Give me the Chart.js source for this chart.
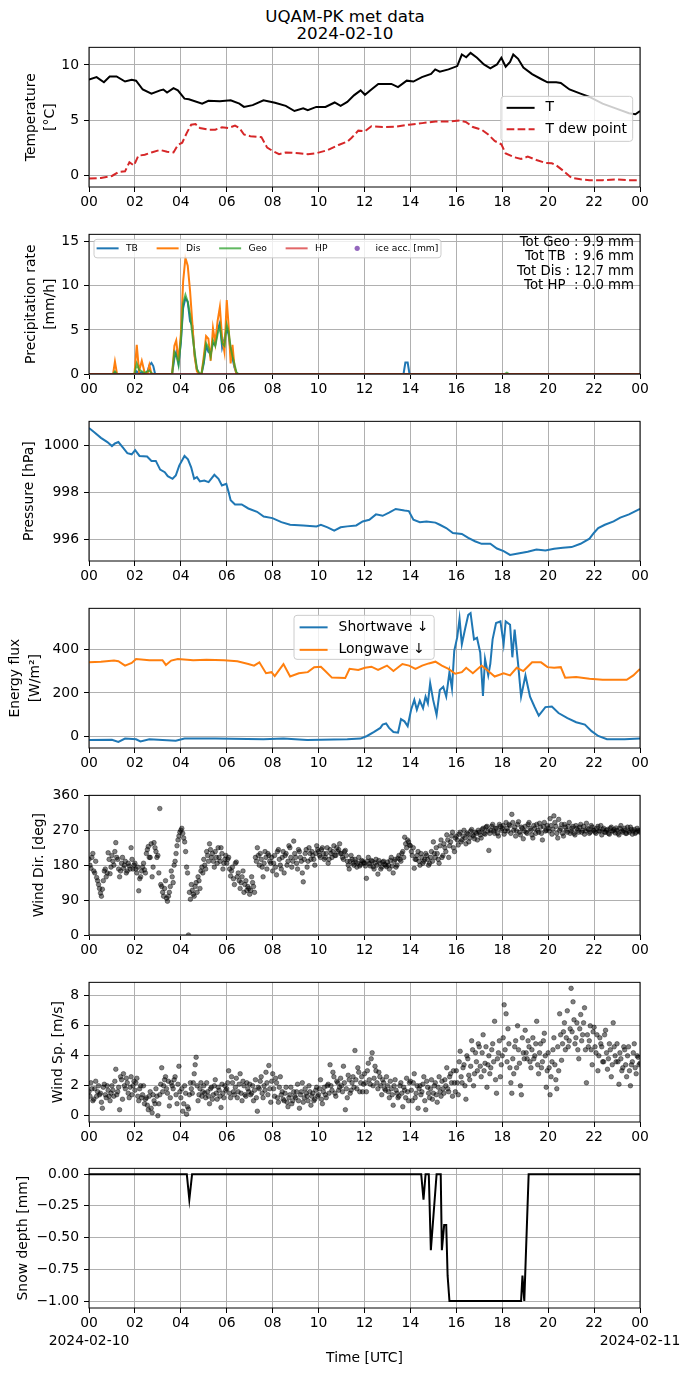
<!DOCTYPE html>
<html>
<head>
<meta charset="utf-8">
<title>UQAM-PK met data</title>
<script src="https://cdn.jsdelivr.net/npm/chart.js@4.4.1/dist/chart.umd.min.js"></script>
<style>
  body { margin: 0; background: #fff; }
  #fig { position: relative; width: 690px; height: 1377px; overflow: hidden; }
  #fig canvas { position: absolute; left: 0; }
  #suptitle {
    position: absolute; left: 0; top: 8px; width: 690px; text-align: center;
    font-family: "DejaVu Sans", sans-serif; font-size: 16.7px; line-height: 16.7px; color: #000;
  }
</style>
</head>
<body>
<div id="fig">
  <div id="suptitle">UQAM-PK met data<br>2024-02-10</div>
</div>
<script>
// ---- data (times in hours UTC) ----
const hourTicks = ['00', '02', '04', '06', '08', '10', '12', '14', '16', '18', '20', '22', '00'];
const dateLabels = ['2024-02-10', '2024-02-11'];

// temperature
const tTime = [0,0.33,0.65,0.9,1.2,1.57,1.86,2.05,2.34,2.72,3.1,3.24,3.4,3.68,3.87,4.16,4.35,4.93,5.2,5.7,6.17,6.55,6.75,7.13,7.6,8.1,8.57,8.95,9.33,9.53,9.9,10.3,10.7,10.96,11.25,11.54,11.83,12.02,12.3,12.6,13.17,13.46,13.84,14.13,14.5,14.9,15.08,15.28,15.66,16.04,16.24,16.43,16.62,16.9,17.2,17.48,17.77,17.96,18.15,18.34,18.48,18.69,18.92,19.3,19.69,19.97,20.35,20.55,20.93,21.41,21.8,22.37,22.94,23.52,23.8,24];
const tAir = [8.67,8.9,8.43,8.96,8.96,8.5,8.67,8.58,7.78,7.4,7.7,7.78,7.5,7.9,7.7,6.95,6.9,6.5,6.75,6.72,6.8,6.5,6.2,6.36,6.8,6.57,6.3,5.83,6.07,5.9,6.2,6.2,6.6,6.3,6.65,7.25,7.7,7.3,7.78,8.28,8.28,8.0,8.58,8.5,8.9,9.2,9.6,9.4,9.6,9.9,10.95,10.7,11.1,10.65,10.05,9.7,10.05,10.65,9.85,10.27,10.95,10.56,9.76,9.17,8.73,8.43,8.43,8.37,7.78,7.4,7.1,6.5,6.07,5.62,5.53,5.83];
const tdTime = [0,0.52,1.0,1.28,1.57,1.76,1.96,2.15,2.43,2.72,3.1,3.4,3.68,3.87,4.06,4.26,4.45,4.64,4.83,5.21,5.5,5.79,6.08,6.36,6.55,6.75,7.03,7.51,7.76,7.99,8.28,8.57,9.14,9.53,9.91,10.39,10.87,11.25,11.44,11.73,12.02,12.3,12.78,13.36,13.94,14.51,15.09,15.66,16.14,16.43,16.72,17.1,17.39,17.67,17.96,18.15,18.54,18.82,19.11,19.49,19.88,20.16,20.36,20.64,21.02,21.41,21.8,22.37,22.94,23.52,24];
const tDew = [-0.3,-0.24,-0.06,0.3,0.36,1.18,0.89,1.78,1.86,2.07,2.3,2.13,2.07,2.75,2.96,3.85,4.59,4.64,4.29,4.14,4.14,4.35,4.29,4.5,4.29,3.7,3.55,3.46,2.51,2.22,1.92,2.07,2.01,1.92,2.01,2.28,2.75,3.05,3.4,4.05,4.0,4.44,4.38,4.41,4.59,4.73,4.88,4.88,4.97,4.82,4.38,4.14,3.7,3.11,2.81,1.98,1.63,1.48,1.69,1.39,1.12,1.09,0.89,0.44,-0.24,-0.36,-0.44,-0.44,-0.38,-0.44,-0.44];

// precipitation rate [mm/h]
const prTime = [0,1.05,1.13,1.22,1.98,2.08,2.18,2.3,2.42,2.55,2.63,2.72,2.8,2.88,3.62,3.72,3.8,3.9,4.0,4.1,4.2,4.3,4.4,4.5,4.6,4.7,4.8,4.9,5.0,5.1,5.2,5.3,5.4,5.5,5.6,5.7,5.8,5.9,6.0,6.08,6.17,6.25,6.33,6.42,6.5,13.7,13.78,13.88,13.96,18.1,18.2,18.3,24];
const tbRate = [0,0,0.2,0,0,0.3,0.1,0.2,0,0.3,1.0,1.25,0.9,0,0,1.8,2.5,1.2,3.5,7.5,8.6,8.2,6.0,5.5,2.2,0.5,0,0,1.2,3.2,2.5,2.3,3.5,3.3,5.0,5.8,3.0,4.0,5.2,4.5,2.5,1.8,0.8,0.1,0,0,1.3,1.3,0,0,0,0,0];
const disRate = [0,0,1.4,0,0,3.3,0.3,1.5,0.2,0,1.0,0,0,0,0,3.2,3.8,1.5,4.5,10.5,13.2,12.3,9.5,5.8,2.0,0.3,0,0,2.0,4.3,4.0,1.5,5.2,3.5,6.0,7.6,4.0,2.5,8.4,5.5,1.2,3.3,1.0,0,0,0,0,0,0,0,0,0,0];
const geoRate = [0,0,0.3,0,0,1.2,0.5,0.3,0.1,0.3,0.4,0.1,0,0,0,2.5,2.2,1.0,3.8,8.0,9.0,8.2,6.8,4.5,2.5,0.6,0.1,0,1.5,3.5,3.0,2.0,3.8,3.2,4.5,5.5,3.5,3.2,5.6,4.8,3.0,2.0,1.2,0.2,0,0,0,0,0,0,0.15,0,0];
const hpTime = [0, 24];
const hpRate = [0, 0];
const iceAcc = [];
const precipTotals = ['Tot Geo : 9.9 mm', 'Tot TB  : 9.6 mm', 'Tot Dis : 12.7 mm', 'Tot HP  : 0.0 mm'];

// pressure [hPa]
const pTime = [0,0.23,0.52,0.8,1.0,1.13,1.28,1.48,1.67,1.86,2.01,2.2,2.53,2.72,2.91,3.1,3.3,3.43,3.64,3.78,3.93,4.16,4.31,4.45,4.58,4.7,4.83,5.02,5.21,5.46,5.64,5.79,5.98,6.08,6.17,6.36,6.65,6.94,7.32,7.61,7.99,8.38,8.76,9.33,9.91,10.1,10.39,10.68,10.96,11.25,11.64,11.92,12.21,12.5,12.79,13.07,13.36,13.74,13.93,14.13,14.41,14.7,15.09,15.28,15.56,15.85,16.24,16.52,16.81,17.1,17.48,17.77,18.06,18.34,18.63,19.11,19.49,19.88,20.26,20.64,21.02,21.41,21.8,21.99,22.18,22.47,22.85,23.14,23.52,24];
const pVals = [1000.74,1000.56,1000.32,1000.14,999.97,1000.08,1000.14,999.9,999.67,999.62,999.8,999.55,999.53,999.34,999.34,998.97,998.86,998.69,998.58,998.72,999.14,999.55,999.41,999.07,998.58,998.65,998.47,998.51,998.44,998.75,998.58,998.3,998.37,998.02,997.67,997.49,997.49,997.32,997.18,996.98,996.91,996.74,996.63,996.6,996.56,996.63,996.52,996.38,996.52,996.56,996.6,996.77,996.84,997.07,997.01,997.14,997.3,997.23,997.21,996.84,996.74,996.77,996.72,996.63,996.49,996.28,996.24,996.07,995.93,995.82,995.82,995.62,995.51,995.35,995.4,995.48,995.58,995.54,995.61,995.65,995.68,995.82,996.04,996.28,996.49,996.63,996.77,996.93,997.07,997.3];

// radiation [W/m2]
const swTime = [0,1.0,1.28,1.57,2.05,2.24,2.63,3.78,4.16,5.5,7.6,8.47,9.5,11.25,11.83,12.11,12.4,12.69,12.79,12.94,13.07,13.26,13.46,13.59,13.74,13.88,14.03,14.17,14.28,14.41,14.55,14.66,14.76,14.86,14.99,15.14,15.28,15.43,15.56,15.7,15.81,15.91,16.04,16.14,16.24,16.39,16.52,16.62,16.77,16.9,17.04,17.16,17.25,17.39,17.48,17.58,17.73,17.92,18.06,18.15,18.34,18.44,18.54,18.69,18.82,19.01,19.21,19.4,19.59,19.88,20.16,20.45,20.84,21.22,21.6,21.89,22.18,22.56,23.33,24];
const swVals = [-15,-14,-24,-9,-12,-22,-12,-19,-9,-9,-12,-9,-15,-12,-9,3,21,40,55,60,40,21,18,80,70,48,123,168,123,165,130,183,153,245,168,100,213,228,183,295,220,393,455,540,423,497,557,565,445,452,385,186,355,280,333,445,520,527,423,527,512,363,490,333,183,280,183,138,96,135,138,108,85,66,55,25,3,-12,-12,-9];
const lwTime = [0,0.52,1.09,1.28,1.57,1.86,2.05,2.63,3.2,3.35,3.58,3.87,4.54,5.12,5.88,6.46,6.94,7.19,7.42,7.71,7.95,8.09,8.47,8.76,9.14,9.53,9.81,10.1,10.29,10.58,11.16,11.35,11.73,12.02,12.3,12.59,12.98,13.26,13.65,13.94,14.22,14.51,14.8,15.09,15.37,15.66,15.95,16.24,16.43,16.72,17.1,17.39,17.67,18.06,18.34,18.63,18.92,19.3,19.69,19.97,20.26,20.55,20.74,21.22,21.8,22.37,22.94,23.42,23.71,24];
const lwVals = [340,343,348,345,325,337,355,350,350,328,348,355,350,352,350,345,332,325,340,290,295,277,332,275,290,295,318,320,300,270,268,310,305,315,320,305,325,300,332,325,310,325,335,343,325,310,288,295,315,290,325,300,275,290,280,315,300,340,340,318,315,318,270,273,265,260,260,260,280,310];

// wind, one value every 5 minutes from 00:00 to 24:00 ...
const windDir = [
  195,172,210,160,148,130,108,118,165,150,212,158,
  205,180,238,195,150,185,172,190,165,178,225,170,
  185,160,114,150,175,168,210,228,200,150,238,215,
  205,326,125,100,140,87,110,165,135,190,230,255,
  270,262,240,175,0,92,115,100,135,150,120,175,
  195,170,205,235,200,190,215,185,200,225,170,195,
  185,200,152,175,130,188,160,120,150,110,140,125,
  105,150,125,200,225,180,195,150,215,170,205,185,
  165,205,155,220,180,200,160,210,190,225,175,242,
  200,170,215,190,137,210,175,225,195,205,180,230,
  215,200,225,195,210,185,220,200,230,205,215,235,
  210,195,218,190,170,205,185,195,175,200,182,190,
  185,146,200,178,190,170,195,157,185,175,190,180,
  188,170,200,160,195,180,205,190,215,252,225,240,
  230,205,172,195,215,180,200,190,210,195,185,215,
  240,200,210,185,245,205,225,258,200,240,265,215,
  255,232,265,245,270,235,260,250,272,255,265,245,
  265,250,275,260,280,218,270,285,262,275,255,280,
  275,260,290,268,282,311,270,255,285,265,278,248,
  280,262,290,270,250,275,285,265,278,245,290,270,
  275,300,260,307,280,250,270,285,255,278,265,290,
  268,280,258,275,265,285,270,260,288,272,265,278,
  270,262,280,268,258,275,265,272,260,278,268,263,
  270,258,282,265,275,262,268,278,260,272,265,270,
  265
];
const windSpd = [
  1.6,2.2,1.0,1.8,1.3,2.0,1.5,0.5,2.1,1.2,1.7,1.0,
  2.0,1.3,3.1,1.6,0.4,2.4,2.8,1.8,2.2,1.2,2.6,2.0,
  1.7,2.5,1.0,2.0,1.4,0.8,1.2,0.4,1.6,0.2,1.0,1.8,
  0.0,1.4,3.2,2.0,2.6,1.5,0.65,2.2,1.8,2.6,0.8,3.3,
  1.2,0.3,2.0,0.1,0.45,2.2,1.5,2.8,3.9,1.0,1.8,1.3,
  2.0,1.2,1.6,0.8,1.9,1.4,2.4,1.1,1.7,0.55,1.5,2.0,
  1.8,3.0,1.2,2.2,1.4,2.5,1.6,2.8,1.0,2.0,1.3,1.8,
  2.1,1.5,1.0,2.4,0.3,1.8,2.6,1.2,1.7,2.2,3.35,0.9,
  2.8,1.3,2.2,0.9,2.6,1.6,1.0,1.9,0.6,1.4,0.8,1.6,
  1.2,2.1,0.5,1.6,0.9,1.8,1.3,2.0,0.7,1.5,1.1,1.9,
  1.4,2.4,0.8,1.9,1.2,2.1,3.4,1.7,2.6,1.3,2.2,1.9,
  2.0,3.3,0.4,1.2,2.4,1.7,2.6,4.35,1.8,2.9,2.2,1.6,
  2.8,1.6,3.5,2.1,4.2,2.5,3.0,1.8,2.6,1.4,2.2,1.7,
  2.0,1.2,1.8,0.7,2.4,1.5,1.3,2.2,0.6,1.7,2.5,1.0,
  2.3,1.0,2.8,1.5,0.5,2.0,1.6,2.6,0.4,1.9,1.2,2.4,
  1.5,2.2,0.9,2.6,1.3,1.8,2.4,3.2,1.6,2.8,1.3,2.2,
  3.0,1.4,4.3,2.2,3.4,1.1,3.8,2.4,5.0,2.0,4.2,3.0,
  4.6,2.6,5.4,3.5,1.9,4.0,3.2,4.8,6.3,1.5,4.2,2.6,
  4.0,7.4,6.8,5.8,3.2,1.5,2.8,5.0,6.0,3.5,1.4,4.2,
  5.7,3.8,4.6,3.2,5.2,4.0,6.3,2.8,4.8,3.6,5.5,1.9,
  4.2,1.4,3.6,5.2,2.4,4.6,6.8,3.7,5.6,4.4,7.0,5.0,
  8.5,7.6,4.8,6.2,3.8,6.75,5.4,7.2,2.2,4.6,6.0,3.4,
  5.9,4.2,3.0,5.2,4.6,3.6,5.7,3.1,4.8,2.6,6.2,4.0,
  4.8,2.1,3.8,3.2,4.4,2.6,4.6,2.0,3.6,4.8,2.8,3.9,
  3.5
];
// ... and the readings in between (2.5 minutes later)
const windDirB = [
  180,200,165,190,140,120,100,140,170,160,195,175,
  190,215,200,170,165,200,180,160,185,170,195,180,
  170,175,145,165,185,160,220,200,235,175,225,200,
  160,130,110,120,95,100,125,150,180,210,245,265,
  275,250,215,160,110,130,105,125,110,140,165,160,
  180,215,190,220,210,175,200,225,190,210,185,205,
  195,170,165,145,185,150,140,135,165,130,115,120,
  115,135,110,190,205,210,175,185,200,210,190,200,
  185,175,215,195,170,215,205,180,230,200,190,210,
  185,220,200,160,195,220,190,210,215,195,210,220,
  205,220,210,200,225,195,210,215,205,225,220,210,
  200,215,205,180,190,195,180,188,185,178,192,186,
  178,190,184,192,176,186,180,192,170,188,182,176,
  180,192,178,190,175,198,195,210,200,235,245,232,
  215,225,195,205,190,210,185,195,205,180,200,190,
  210,225,195,230,200,235,215,245,230,255,225,250,
  245,260,240,255,250,262,240,268,258,248,262,270,
  258,272,262,278,268,262,280,268,275,262,285,270,
  282,268,275,285,262,290,278,268,292,258,275,268,
  265,285,275,258,282,262,270,288,262,280,268,282,
  268,282,272,290,262,298,275,262,285,270,280,262,
  275,262,282,270,278,265,280,268,275,262,282,270,
  265,275,268,282,272,265,270,262,275,268,272,276,
  262,275,268,270,262,278,265,272,268,262,275,268
];
const windSpdB = [
  1.3,1.8,1.1,2.3,1.6,1.4,0.9,1.9,1.4,2.0,1.3,1.5,
  1.7,2.3,1.4,1.9,2.6,1.1,2.0,2.5,1.5,1.9,1.4,2.3,
  2.2,1.3,1.8,1.2,2.0,1.1,0.7,1.3,0.5,1.4,0.8,1.3,
  0.8,2.1,1.6,2.4,1.8,2.3,1.2,2.0,2.4,1.4,2.1,1.6,
  1.8,0.8,1.5,0.6,1.4,1.8,2.2,3.4,2.0,1.4,2.2,1.6,
  1.5,2.2,1.3,1.8,1.1,2.0,1.5,1.9,1.3,2.1,1.2,1.7,
  2.2,1.5,2.6,1.6,1.9,1.2,2.1,1.5,2.3,1.4,2.2,1.6,
  1.4,2.0,1.7,1.2,1.9,2.3,1.5,2.0,2.9,1.4,1.8,2.3,
  1.8,2.5,1.2,1.9,1.4,1.1,1.5,0.9,1.2,1.9,1.0,1.3,
  1.6,1.0,1.4,2.2,1.2,1.5,1.0,1.6,1.3,1.0,1.7,1.3,
  1.8,1.1,1.6,1.4,2.0,1.5,2.0,2.9,1.5,2.3,1.7,2.5,
  1.6,2.2,1.8,2.7,1.5,2.2,1.9,2.4,3.2,1.6,2.6,2.1,
  2.2,3.0,2.4,3.8,2.0,3.3,2.2,2.9,2.0,2.4,1.8,2.6,
  1.6,2.3,1.4,2.0,1.7,1.2,2.0,1.5,1.9,1.2,1.6,2.2,
  1.7,2.2,1.2,2.0,1.8,1.4,2.1,1.0,2.3,1.5,1.8,1.1,
  2.0,1.4,1.9,1.6,2.3,1.5,2.0,1.8,2.6,2.2,3.0,1.6,
  2.2,3.6,2.6,3.2,2.0,4.0,2.7,3.3,4.4,2.8,3.6,4.8,
  3.3,4.2,3.0,4.6,3.4,2.8,4.4,3.6,2.4,3.8,5.0,3.4,
  5.2,4.4,3.6,4.8,2.2,3.8,4.6,3.2,4.4,2.0,5.2,3.8,
  4.2,5.0,3.6,4.4,3.8,4.8,3.4,4.2,3.2,5.0,4.0,3.0,
  3.2,2.6,4.4,3.4,1.8,3.0,5.4,4.8,6.2,5.2,4.6,5.8,
  5.6,6.4,5.2,4.4,5.8,5.0,6.2,4.4,5.4,5.0,4.4,5.6,
  4.6,5.4,4.0,4.8,3.6,5.4,4.2,3.8,4.4,3.4,4.6,3.6,
  3.6,4.2,3.0,4.6,3.4,4.0,3.0,3.4,4.2,3.2,4.0,3.4
];

// snow depth [mm]
const snowTime = [0,4.26,4.37,4.49,14.47,14.57,14.66,14.8,14.89,15.14,15.32,15.37,15.47,15.56,15.62,15.7,18.82,18.88,18.96,19.15,24];
const snowDepth = [0,0,-0.2,0,0,-0.2,0,0,-0.6,0,0,-0.6,-0.4,-0.4,-0.8,-1.0,-1.0,-0.8,-1.0,0,0];

// y ticks
const tempTicks = [0, 5, 10];
const precipTicks = [0, 5, 10, 15];
const presTicks = [996, 998, 1000];
const fluxTicks = [0, 200, 400];
const dirTicks = [0, 90, 180, 270, 360];
const spdTicks = [0, 2, 4, 6, 8];
const snowTicks = [-1, -0.75, -0.5, -0.25, 0];
const snowTickLabels = ['\u22121.00', '\u22120.75', '\u22120.50', '\u22120.25', '0.00'];

// ---- layout ----
const FONT = 'DejaVu Sans';
const FS = 13.9;
const GRID = '#b0b0b0';
const PAD = 10;
const PANEL_H = 143;
const AXIS_W = 89;
const panelTops = [44, 231, 418, 605, 792, 979, 1165];

Chart.defaults.font.family = FONT;
Chart.defaults.color = '#000';

const pts = (times, vals) => times.map((t, i) => ({ x: t, y: vals[i] }));
const windTime = windDir.map((_, i) => i / 12);
const windTimeB = windDirB.map((_, i) => i / 12 + 1 / 24);

function lineSet(label, times, vals, color, extra) {
  return Object.assign({
    label: label, data: pts(times, vals), borderColor: color, backgroundColor: color,
    borderWidth: 2, pointRadius: 0, fill: false, tension: 0, clip: 0
  }, extra || {});
}

function dotSet(label, times, vals) {
  return {
    type: 'scatter', label: label, data: pts(times, vals),
    pointRadius: 2.3, pointBorderWidth: 0.8,
    pointBackgroundColor: 'rgba(0,0,0,0.5)', pointBorderColor: 'rgba(0,0,0,0.5)',
    backgroundColor: 'rgba(0,0,0,0.5)', clip: 0
  };
}

function xAxis(last) {
  return {
    type: 'linear', min: 0, max: 24,
    afterBuildTicks: s => { s.ticks = hourTicks.map((_, i) => ({ value: i * 2 })); },
    afterFit: s => { s.height = last ? 59 : 30; },
    grid: { color: GRID, lineWidth: 1, tickColor: '#000', tickLength: 5, tickWidth: 1 },
    border: { display: false },
    ticks: {
      color: '#000', padding: 1, maxRotation: 0, autoSkip: false,
      font: { family: FONT, size: FS, lineHeight: 1.3 },
      callback: (v, i) => {
        if (last && i === 0) return [hourTicks[i], dateLabels[0]];
        if (last && i === hourTicks.length - 1) return [hourTicks[i], dateLabels[1]];
        return hourTicks[i];
      }
    },
    title: last
      ? { display: true, text: 'Time [UTC]', color: '#000', font: { family: FONT, size: FS, lineHeight: 1.2 }, padding: 0 }
      : { display: false }
  };
}

function yAxis(min, max, ticks, title, titlePad, lineH, labels) {
  return {
    type: 'linear', min: min, max: max,
    afterBuildTicks: s => { s.ticks = ticks.map(v => ({ value: v })); },
    afterFit: s => { s.width = AXIS_W; },
    grid: { color: GRID, lineWidth: 1, tickColor: '#000', tickLength: 5, tickWidth: 1 },
    border: { display: false },
    ticks: {
      color: '#000', padding: 5, font: { family: FONT, size: FS },
      callback: (v, i) => labels ? labels[i] : v
    },
    title: {
      display: true, text: title, color: '#000',
      font: { family: FONT, size: FS, lineHeight: lineH },
      padding: { top: titlePad, bottom: 0 }
    }
  };
}

// black box round the plot area, like matplotlib spines
const frame = {
  id: 'frame',
  afterDraw(chart) {
    const { ctx, chartArea: a } = chart;
    ctx.save();
    ctx.strokeStyle = '#000';
    ctx.lineWidth = 1;
    ctx.strokeRect(a.left, a.top, a.right - a.left, a.bottom - a.top);
    ctx.restore();
  }
};

// legend box drawn over the data, laid out like matplotlib's
function boxLegend(cfg) {
  return {
    id: 'boxLegend',
    afterDatasetsDraw(chart) {
      const { ctx, chartArea: a } = chart;
      const sets = chart.data.datasets;
      ctx.save();
      ctx.font = cfg.size + 'px "' + FONT + '"';
      const widths = sets.map(d => ctx.measureText(d.label).width);
      let w;
      if (cfg.row) {
        w = cfg.pad * 2 + widths.reduce((s, tw) => s + cfg.handle + cfg.gap + tw, 0) + cfg.colGap * (sets.length - 1);
      } else {
        w = cfg.pad * 2 + cfg.handle + cfg.gap + Math.max.apply(null, widths);
      }
      const x0 = a.left + cfg.left, y0 = a.top + cfg.top;
      ctx.beginPath();
      if (ctx.roundRect) ctx.roundRect(x0, y0, w, cfg.height, 3); else ctx.rect(x0, y0, w, cfg.height);
      ctx.fillStyle = 'rgba(255,255,255,0.8)';
      ctx.fill();
      ctx.strokeStyle = '#cccccc';
      ctx.lineWidth = 1;
      ctx.stroke();
      let x = x0 + cfg.pad;
      sets.forEach((d, i) => {
        const hx = cfg.row ? x : x0 + cfg.pad;
        const y = y0 + cfg.rowY + (cfg.row ? 0 : i * cfg.rowH);
        if (d.type === 'scatter') {
          ctx.beginPath();
          ctx.arc(hx + cfg.handle / 2, y, cfg.dot, 0, Math.PI * 2);
          ctx.fillStyle = d.backgroundColor;
          ctx.fill();
        } else {
          ctx.beginPath();
          ctx.setLineDash(d.borderDash || []);
          ctx.strokeStyle = d.borderColor;
          ctx.lineWidth = d.borderWidth;
          ctx.moveTo(hx, y);
          ctx.lineTo(hx + cfg.handle, y);
          ctx.stroke();
          ctx.setLineDash([]);
        }
        ctx.fillStyle = '#000';
        ctx.textAlign = 'left';
        ctx.textBaseline = 'middle';
        ctx.fillText(d.label, hx + cfg.handle + cfg.gap, y);
        x += cfg.handle + cfg.gap + widths[i] + cfg.colGap;
      });
      ctx.restore();
    }
  };
}

const totalsText = {
  id: 'totalsText',
  afterDatasetsDraw(chart) {
    const { ctx, chartArea: a } = chart;
    ctx.save();
    ctx.font = '13.3px "' + FONT + '"';
    ctx.fillStyle = '#000';
    ctx.textAlign = 'right';
    ctx.textBaseline = 'middle';
    precipTotals.forEach((s, i) => ctx.fillText(s, a.right - 6, a.top + 8.5 + i * 14.1));
    ctx.restore();
  }
};

function makePanel(index, type, datasets, y, plugins) {
  const last = index === panelTops.length - 1;
  const cv = document.createElement('canvas');
  const h = PAD + PANEL_H + (last ? 59 : 30);
  cv.width = 690;
  cv.height = h;
  cv.style.width = '690px';
  cv.style.height = h + 'px';
  cv.style.top = (panelTops[index] - PAD) + 'px';
  document.getElementById('fig').appendChild(cv);
  // later datasets on top, as in matplotlib
  datasets.forEach((d, i) => { d.order = datasets.length - i; });
  return new Chart(cv, {
    type: type,
    data: { datasets: datasets },
    options: {
      responsive: false, animation: false,
      layout: { padding: { top: PAD, right: 50, bottom: 0, left: 0 } },
      plugins: { legend: { display: false }, tooltip: { enabled: false } },
      scales: { x: xAxis(last), y: y }
    },
    plugins: [frame].concat(plugins || [])
  });
}

// Temperature
makePanel(0, 'line', [
  lineSet('T', tTime, tAir, '#000000'),
  lineSet('T dew point', tdTime, tDew, '#d62728', { borderDash: [7.7, 3.3] })
], yAxis(-1.06, 11.6, tempTicks, ['Temperature', '[\u00b0C]'], 22.2, 1.36),
[boxLegend({ left: 412, top: 49, height: 45, size: FS, handle: 28, gap: 11, pad: 5.6, rowY: 11.5, rowH: 21.5 })]);

// Precipitation
makePanel(1, 'line', [
  lineSet('TB', prTime, tbRate, '#1f77b4'),
  lineSet('Dis', prTime, disRate, '#ff7f0e'),
  lineSet('Geo', prTime, geoRate, 'rgba(44,160,44,0.75)'),
  lineSet('HP', hpTime, hpRate, 'rgba(214,39,40,0.7)'),
  { type: 'scatter', label: 'ice acc. [mm]', data: iceAcc, pointRadius: 2.5, backgroundColor: '#9467bd', pointBackgroundColor: '#9467bd' }
], yAxis(0, 15.85, precipTicks, ['Precipitation rate', '[mm/h]'], 22.2, 1.36),
[boxLegend({ left: 5, top: 5, height: 18.5, size: 9.2, handle: 22, gap: 7.4, pad: 2.6, colGap: 18.7, rowY: 9, row: true, dot: 2.6 }), totalsText]);

// Pressure
makePanel(2, 'line', [
  lineSet('Pressure', pTime, pVals, '#1f77b4')
], yAxis(995.09, 1001.02, presTicks, 'Pressure [hPa]', 21.2, 1.2));

// Energy flux
makePanel(3, 'line', [
  lineSet('Shortwave \u2193', swTime, swVals, '#1f77b4'),
  lineSet('Longwave \u2193', lwTime, lwVals, '#ff7f0e')
], yAxis(-52, 587, fluxTicks, ['Energy flux', '[W/m\u00b2]'], 5.2, 1.43),
[boxLegend({ left: 205, top: 7, height: 44, size: FS, handle: 28, gap: 11, pad: 5.6, rowY: 12, rowH: 22.5 })]);

// Wind direction
makePanel(4, 'scatter', [
  dotSet('Wind dir', windTime, windDir),
  dotSet('Wind dir', windTimeB, windDirB)
], yAxis(0, 360, dirTicks, 'Wind Dir. [deg]', 30.7, 1.2));

// Wind speed
makePanel(5, 'scatter', [
  dotSet('Wind sp', windTime, windSpd),
  dotSet('Wind sp', windTimeB, windSpdB)
], yAxis(-0.42, 8.9, spdTicks, 'Wind Sp. [m/s]', 49.7, 1.2));

// Snow depth
makePanel(6, 'line', [
  lineSet('Snow depth', snowTime, snowDepth, '#000000')
], yAxis(-1.055, 0.046, snowTicks, 'Snow depth [mm]', 14.7, 1.2, snowTickLabels));
</script>
</body>
</html>
